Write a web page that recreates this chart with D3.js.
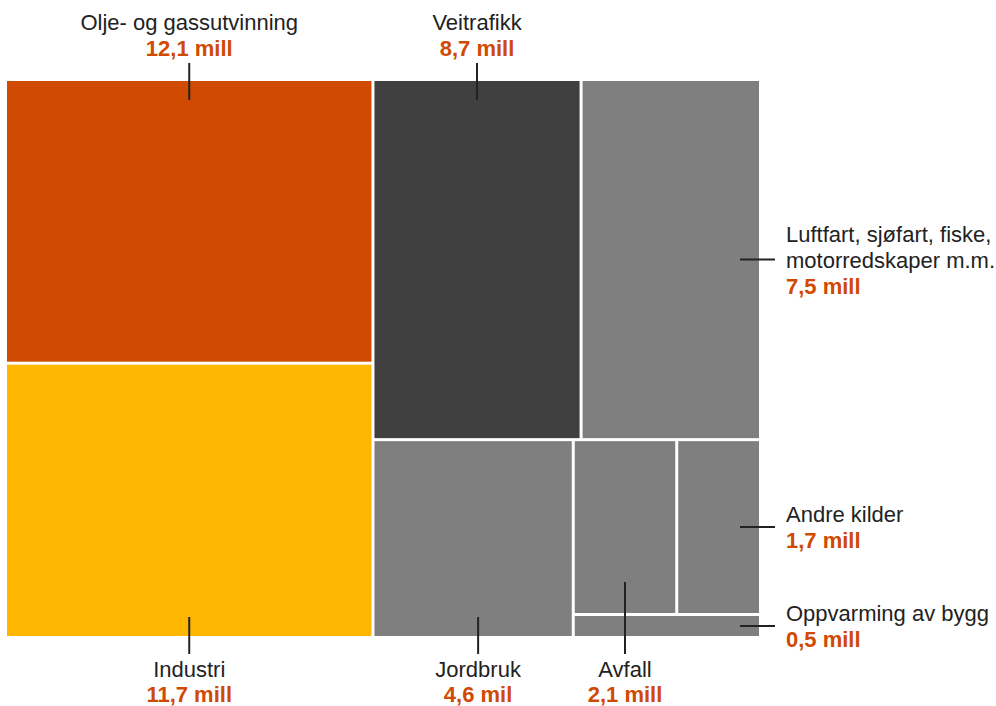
<!DOCTYPE html>
<html>
<head>
<meta charset="utf-8">
<script src="https://cdn.jsdelivr.net/npm/d3@7/dist/d3.min.js"></script>
<style>
  html, body { margin: 0; padding: 0; background: #fff; }
  svg { display: block; font-family: "Helvetica Neue", Helvetica, "Liberation Sans", Arial, sans-serif; }
</style>
</head>
<body>
<svg id="chart" width="996" height="706"></svg>
<script>
// Klimagassutslipp etter kilde (mill. tonn CO2-ekvivalenter)
const categories = [
  "Olje- og gassutvinning",
  "Industri",
  "Veitrafikk",
  "Luftfart, sjøfart, fiske, motorredskaper m.m.",
  "Jordbruk",
  "Avfall",
  "Andre kilder",
  "Oppvarming av bygg"
];
const values = [12.1, 11.7, 8.7, 7.5, 4.6, 2.1, 1.7, 0.5];
const units = ["mill", "mill", "mill", "mill", "mil", "mill", "mill", "mill"];
// Label text broken into lines
const labelLines = [
  ["Olje- og gassutvinning"],
  ["Industri"],
  ["Veitrafikk"],
  ["Luftfart, sjøfart, fiske,", "motorredskaper m.m."],
  ["Jordbruk"],
  ["Avfall"],
  ["Andre kilder"],
  ["Oppvarming av bygg"]
];
// Grouping of categories (by index) into nested blocks
const groups = [[0, 1], [[2, 3], [4, [[5, 6], 7]]]];

const colors = ["#d04a02", "#ffb600", "#404040", "#7f7f7f", "#7f7f7f", "#7f7f7f", "#7f7f7f", "#7f7f7f"];
const labelSide = ["top", "bottom", "top", "right", "bottom", "bottom", "right", "right"];
const labelShift = [0, 0, 0, 0, 5, 0, 0, 0];     // horizontal nudge of leader line
const leaderInset = [19, 19, 19, 19, 19, 31, 19, 19];

const textColor = "#222222";
const valueColor = "#d04a02";
const fontSize = 22;
const lineGap = 26;

const box = { x0: 7, y0: 81, x1: 759, y1: 636 };

const svg = d3.select("#chart");

function build(node) {
  if (Array.isArray(node)) return { children: node.map(build) };
  return { index: node, name: categories[node], value: values[node] };
}

const root = d3.hierarchy(build(groups))
  .sum(d => d.value || 0);

d3.treemap()
  .tile(d3.treemapSliceDice)
  .size([box.x1 - box.x0, box.y1 - box.y0])
  .paddingInner(3)(root);

const g = svg.append("g").attr("transform", `translate(${box.x0},${box.y0})`);
const leaves = root.leaves();

g.selectAll("rect")
  .data(leaves)
  .join("rect")
  .attr("x", d => d.x0)
  .attr("y", d => d.y0)
  .attr("width", d => d.x1 - d.x0)
  .attr("height", d => d.y1 - d.y0)
  .attr("fill", d => colors[d.data.index]);

const fmt = v => d3.format(".1f")(v).replace(".", ",");
const W = box.x1 - box.x0, H = box.y1 - box.y0;

leaves.forEach(d => {
  const i = d.data.index;
  const side = labelSide[i];
  const lines = labelLines[i].map(t => ({ t, bold: false }))
    .concat([{ t: `${fmt(values[i])} ${units[i]}`, bold: true }]);
  const lab = g.append("g");
  let tx, ty0, anchor, gap = lineGap;
  if (side === "top") {
    const cx = (d.x0 + d.x1) / 2 + labelShift[i];
    lab.append("line").attr("x1", cx).attr("x2", cx)
      .attr("y1", -18).attr("y2", d.y0 + leaderInset[i]);
    tx = cx; anchor = "middle";
    ty0 = -51 - (lines.length - 2) * lineGap;
  } else if (side === "bottom") {
    const cx = (d.x0 + d.x1) / 2 + labelShift[i];
    lab.append("line").attr("x1", cx).attr("x2", cx)
      .attr("y1", d.y1 - leaderInset[i]).attr("y2", H + 18);
    tx = cx; anchor = "middle";
    ty0 = H + 41; gap = 25;
  } else {
    const cy = (d.y0 + d.y1) / 2;
    lab.append("line").attr("x1", W - 19).attr("x2", W + 16)
      .attr("y1", cy).attr("y2", cy);
    tx = W + 27; anchor = "start";
    ty0 = cy + 8 - (lines.length - 1) / 2 * lineGap;
  }
  lab.select("line").attr("stroke", textColor).attr("stroke-width", 2);
  lab.selectAll("text")
    .data(lines)
    .join("text")
    .attr("x", tx)
    .attr("y", (l, k) => ty0 + k * gap)
    .attr("text-anchor", anchor)
    .attr("font-size", fontSize)
    .attr("font-weight", l => l.bold ? "bold" : "normal")
    .attr("fill", l => l.bold ? valueColor : textColor)
    .text(l => l.t);
});
</script>
</body>
</html>
